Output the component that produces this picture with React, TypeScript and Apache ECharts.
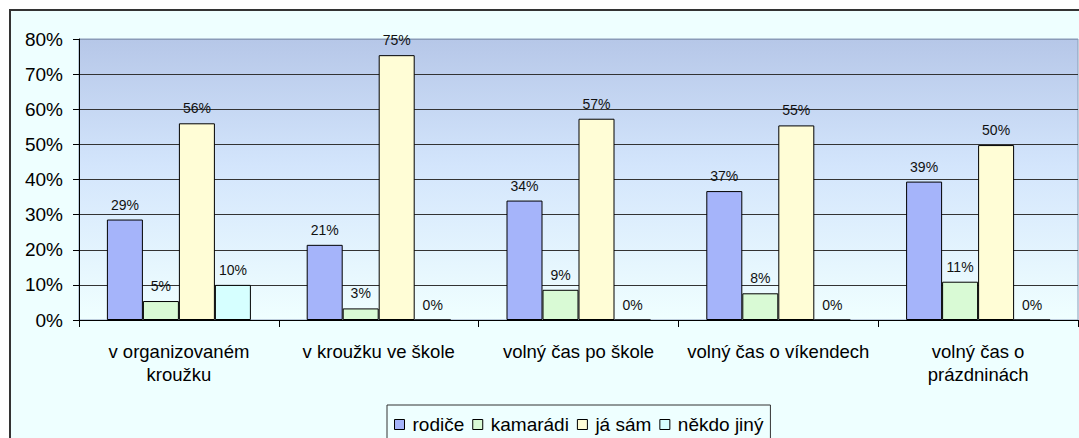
import React, { useEffect, useRef } from "react";
import * as echarts from "echarts";

const categories = [
  "v organizovaném\nkroužku",
  "v kroužku ve škole",
  "volný čas po škole",
  "volný čas o víkendech",
  "volný čas o\nprázdninách",
];
const seriesNames = ["rodiče", "kamarádi", "já sám", "někdo jiný"];
const rodice = [28.6, 21.4, 34.0, 36.7, 39.4];
const kamaradi = [5.4, 3.3, 8.6, 7.6, 10.9];
const jaSam = [56.0, 75.4, 57.3, 55.4, 49.8];
const nekdoJiny = [10.0, 0, 0, 0, 0];
const seriesData = [rodice, kamaradi, jaSam, nekdoJiny];
const seriesColors = ["#A5B4FA", "#D9FAD5", "#FFFDD6", "#D6FFFF"];
const yTicks = { min: 0, max: 80, interval: 10 };

const FONT = "Liberation Sans";

export default function App() {
  const ref = useRef<HTMLDivElement>(null);
  useEffect(() => {
    if (!ref.current) return;
    const chart = echarts.init(ref.current, undefined, { renderer: "svg" });
    const splitColors = ["#333", "#333", "#333", "#333", "#333", "#333", "#333", "#333", "#8A9BB8"];
    chart.setOption({
      animation: false,
      backgroundColor: "#ffffff",
      graphic: [
        {
          type: "rect",
          z: -10,
          shape: { x: 10, y: 10, width: 1100, height: 460 },
          style: { fill: "#EEFFFF", stroke: "#333", lineWidth: 2 },
        },
      ],
      grid: {
        left: 79,
        top: 39,
        right: 1,
        height: 281,
        show: true,
        borderColor: "#8A9BB8",
        borderWidth: 1,
        backgroundColor: {
          type: "linear",
          x: 0,
          y: 0,
          x2: 0,
          y2: 1,
          colorStops: [
            { offset: 0, color: "#B6C7E8" },
            { offset: 0.45, color: "#D3E5FC" },
            { offset: 1, color: "#F0FFFF" },
          ],
        },
      },
      legend: {
        data: seriesNames,
        left: 387,
        top: 405,
        padding: [10, 7, 5, 7],
        borderColor: "#333",
        borderWidth: 1,
        backgroundColor: "#EEFFFF",
        itemGap: 8,
        itemWidth: 10,
        itemHeight: 10,
        icon: "rect",
        itemStyle: { borderColor: "#000", borderWidth: 1 },
        textStyle: { fontFamily: FONT, fontSize: 19, color: "#000", padding: [0, 0, 0, 3] },
      },
      xAxis: {
        type: "category",
        data: categories,
        axisLine: { show: true, lineStyle: { color: "#000", width: 1 } },
        axisTick: { show: true, length: 7, lineStyle: { color: "#000" } },
        axisLabel: {
          interval: 0,
          fontFamily: FONT,
          fontSize: 18.5,
          color: "#000",
          lineHeight: 23,
          margin: 20,
        },
        splitLine: { show: false },
      },
      yAxis: {
        type: "value",
        min: yTicks.min,
        max: yTicks.max,
        interval: yTicks.interval,
        axisLine: { show: true, lineStyle: { color: "#000", width: 1 } },
        axisTick: { show: true, length: 6, lineStyle: { color: "#000" } },
        axisLabel: {
          formatter: "{value}%",
          fontFamily: FONT,
          fontSize: 19,
          color: "#000",
          margin: 16,
        },
        splitLine: { show: true, lineStyle: { color: splitColors, width: 1 } },
      },
      series: seriesNames.map((name, i) => ({
        name,
        type: "bar",
        data: seriesData[i],
        barWidth: 36,
        barGap: "0%",
        itemStyle: { color: seriesColors[i], borderColor: "#000", borderWidth: 1 },
        label: {
          show: true,
          position: "top",
          distance: 8,
          fontFamily: FONT,
          fontSize: 14,
          color: "#111",
          formatter: (p: any) => Math.round(p.value) + "%",
        },
      })),
    });
    return () => chart.dispose();
  }, []);
  return (
    <div
      ref={ref}
      style={{ position: "fixed", left: 0, top: 0, width: 1079, height: 438 }}
    />
  );
}
